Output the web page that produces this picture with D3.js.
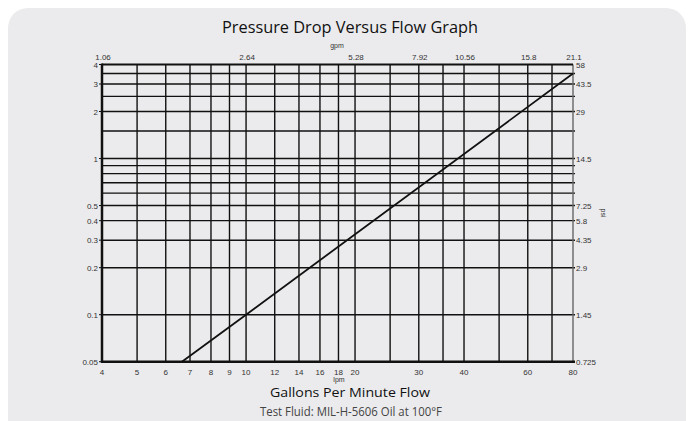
<!DOCTYPE html>
<html><head><meta charset="utf-8">
<script src="https://cdn.jsdelivr.net/npm/d3@7"></script>
<style>body{margin:0;background:#fff;}svg{display:block;}</style>
</head><body>
<svg id="c" width="694" height="421"></svg>
<script>
// ---- data ----
const lpmGrid = [5,6,7,8,9,10,12,14,16,18,20,25,30,35,40,50,60,70];
const lpmTicks = [4,5,6,7,8,9,10,12,14,16,18,20,30,40,60,80];
const gpmTickLpm = [4,10,20,30,40,60,80];
const gpmLabels = ["1.06","2.64","5.28","7.92","10.56","15.8","21.1"];
const dpGrid = [0.1,0.2,0.3,0.4,0.5,0.6,0.7,0.8,0.9,1,1.5,2,2.5,3,3.5];
const dpTicks = [0.05,0.1,0.2,0.3,0.4,0.5,1,2,3,4];
const dpTickLabels = ["0.05","0.1","0.2","0.3","0.4","0.5","1","2","3","4"];
const psiLabels = ["0.725","1.45","2.9","4.35","5.8","7.25","14.5","29","43.5","58"];
const curveLpm = [6.65, 10, 80];
const curveDp = [0.05, 0.1, 3.5];

const svg = d3.select("#c");
const L=102, R=573, T=64.5, B=361.7;
const x = d3.scaleLog().domain([4,80]).range([L,R]);
const y = d3.scaleLog().domain([0.05,4]).range([B,T]);

// card
svg.append("rect").attr("x",8).attr("y",8).attr("width",678).attr("height",440)
  .attr("rx",20).attr("fill","#ebebed");

svg.append("text").attr("x",350).attr("y",33).attr("text-anchor","middle")
  .style("font-family","'Open Sans'").style("font-size","16.5px").attr("fill","#111")
  .attr("textLength",256).attr("lengthAdjust","spacingAndGlyphs")
  .text("Pressure Drop Versus Flow Graph");

const g = svg.append("g");
// horizontal grid
g.selectAll(".h").data(dpGrid).join("line")
  .attr("x1",L).attr("x2",R+2).attr("y1",d=>y(d)).attr("y2",d=>y(d))
  .attr("stroke","#111").attr("stroke-width",1.4);
// vertical grid
g.selectAll(".v").data(lpmGrid).join("line")
  .attr("y1",T).attr("y2",B).attr("x1",d=>x(d)).attr("x2",d=>x(d))
  .attr("stroke","#111").attr("stroke-width",1.4);
// left tick marks
g.selectAll(".lt").data(dpTicks).join("line")
  .attr("x1",L-3).attr("x2",L).attr("y1",d=>y(d)).attr("y2",d=>y(d))
  .attr("stroke","#111").attr("stroke-width",1);
// frame
g.append("line").attr("x1",R).attr("x2",R).attr("y1",T).attr("y2",B).attr("stroke","#666").attr("stroke-width",1.4);
g.append("line").attr("x1",L).attr("x2",R).attr("y1",T).attr("y2",T).attr("stroke","#111").attr("stroke-width",2);
g.append("line").attr("x1",L).attr("x2",L).attr("y1",T-1).attr("y2",B+1.2).attr("stroke","#111").attr("stroke-width",2.5);
g.append("line").attr("x1",L-1).attr("x2",R+2).attr("y1",B).attr("y2",B).attr("stroke","#111").attr("stroke-width",2.5);

// curve
const line = d3.line().x(d=>x(d[0])).y(d=>y(d[1]));
g.append("path").datum(curveLpm.map((v,i)=>[v,curveDp[i]]))
  .attr("d",line).attr("fill","none").attr("stroke","#111").attr("stroke-width",1.8);

const tf = "'Liberation Sans', Arial, sans-serif";
// bottom ticks labels
g.selectAll(".bl").data(lpmTicks).join("text")
  .attr("x",d=>x(d)).attr("y",B+13).attr("text-anchor","middle")
  .style("font-family",tf).style("font-size","8px").attr("fill","#333").text(d=>d);
// top gpm labels
g.selectAll(".tl").data(gpmTickLpm).join("text")
  .attr("x",d=>x(d)+1).attr("y",T-4.5).attr("text-anchor","middle")
  .style("font-family",tf).style("font-size","8px").attr("fill","#333").text((d,i)=>gpmLabels[i]);
// left labels
g.selectAll(".ll").data(dpTicks).join("text")
  .attr("x",L-4).attr("y",d=>y(d)+3).attr("text-anchor","end")
  .style("font-family",tf).style("font-size","8px").attr("fill","#333").text((d,i)=>dpTickLabels[i]);
// right psi labels
g.selectAll(".rl").data(dpTicks).join("text")
  .attr("x",R+3).attr("y",d=>y(d)+3).attr("text-anchor","start")
  .style("font-family",tf).style("font-size","8px").attr("fill","#333").text((d,i)=>psiLabels[i]);

svg.append("text").attr("x",337).attr("y",48).attr("text-anchor","middle")
  .style("font-family",tf).style("font-size","7px").attr("fill","#333").text("gpm");
svg.append("text").attr("x",339).attr("y",382).attr("text-anchor","middle")
  .style("font-family",tf).style("font-size","7px").attr("fill","#333").text("lpm");
svg.append("text").attr("transform","translate(601,213) rotate(90)").attr("text-anchor","middle")
  .style("font-family",tf).style("font-size","7px").attr("fill","#333").text("psi");

svg.append("text").attr("x",350).attr("y",396.5).attr("text-anchor","middle")
  .style("font-family","'Open Sans'").style("font-size","13.5px").attr("fill","#111")
  .attr("textLength",160).attr("lengthAdjust","spacingAndGlyphs")
  .text("Gallons Per Minute Flow");
svg.append("text").attr("x",351).attr("y",415.5).attr("text-anchor","middle")
  .style("font-family","'Open Sans'").style("font-size","13px").attr("fill","#444")
  .attr("textLength",182).attr("lengthAdjust","spacingAndGlyphs")
  .text("Test Fluid: MIL-H-5606 Oil at 100°F");
</script>
</body></html>
